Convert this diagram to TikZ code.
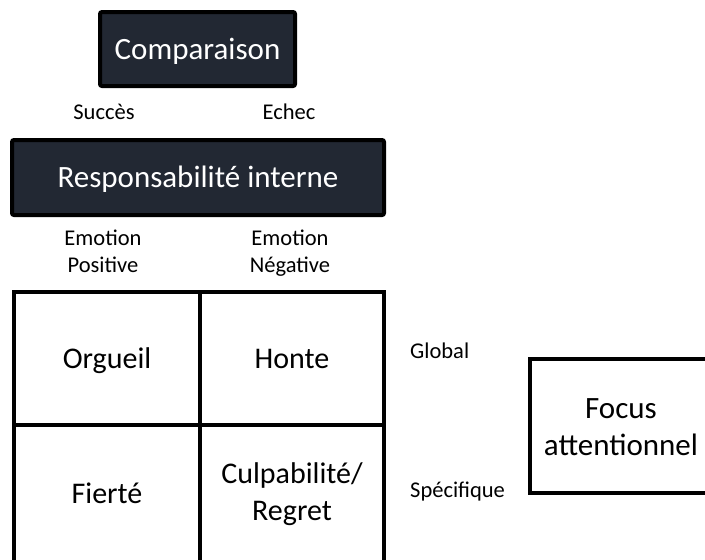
\documentclass[tikz,border=0pt]{standalone}
\usepackage{fontspec}
\setmainfont{Carlito}
\definecolor{boxdark}{RGB}{34,40,51}

\tikzset{
    darkbox/.style={draw=black, line width=4pt, fill=boxdark, text=white, rounded corners=2pt, font=\fontsize{31}{36}\selectfont, inner sep=0pt, text height=20pt, text depth=0pt},
    cell/.style={draw=black, line width=4pt, inner sep=0pt, align=center},
    oneline/.style={text height=19.5pt, text depth=0pt},
    lbl/.style={font=\fontsize{22.5}{27}\selectfont, align=center, inner sep=0pt}
}

\begin{document}
\begin{tikzpicture}[x=1pt, y=-1pt]
            \useasboundingbox (0,0) rectangle (705,560);
            \clip (0,0) rectangle (705,560);

            % Nodes
            \node[darkbox, minimum width=195pt, minimum height=74pt] (comp) at (197.5,49) {Comparaison};
            \node[lbl, text height=14.5pt, text depth=0pt] (succ) at (104,112.5) {Succès};
            \node[lbl, text height=14.5pt, text depth=0pt] (ech) at (289,112.5) {Echec};
            \node[darkbox, minimum width=372pt, minimum height=75pt] (resp) at (198,177.5) {Responsabilité interne};
            \node[lbl] (pos) at (103,251.5) {\rule{0pt}{20pt}Emotion\\Positive\rule[-6pt]{0pt}{6pt}};
            \node[lbl] (neg) at (290,251.5) {\rule{0pt}{20pt}Emotion\\Négative\rule[-6pt]{0pt}{6pt}};

            % Grid
            \node[cell, oneline, font=\fontsize{30}{37}\selectfont, minimum width=186pt, minimum height=133pt] (org) at (107,358.5) {Orgueil};
            \node[cell, oneline, font=\fontsize{30}{37}\selectfont, minimum width=184pt, minimum height=133pt] (hon) at (292,358.5) {Honte};
            \node[cell, oneline, font=\fontsize{30}{37}\selectfont, minimum width=186pt, minimum height=137pt] (fie) at (107,493.5) {Fierté};
            \node[cell, font=\fontsize{30}{37}\selectfont, minimum width=184pt, minimum height=137pt] (cul) at (292,493.5) {\rule{0pt}{25pt}Culpabilité/\\Regret\rule[-8pt]{0pt}{8pt}};

            % Right side
            \node[lbl, anchor=west, text height=14.5pt, text depth=0pt] (glob) at (410,351.5) {Global};
            \node[lbl, anchor=west, text height=14.5pt, text depth=0pt] (spec) at (410,490) {Spécifique};
            \node[cell, font=\fontsize{31}{37}\selectfont, minimum width=182pt, minimum height=134pt] (foc) at (621,426) {\rule{0pt}{26pt}Focus\\attentionnel\rule[-5pt]{0pt}{5pt}};
        \end{tikzpicture}
\end{document}
